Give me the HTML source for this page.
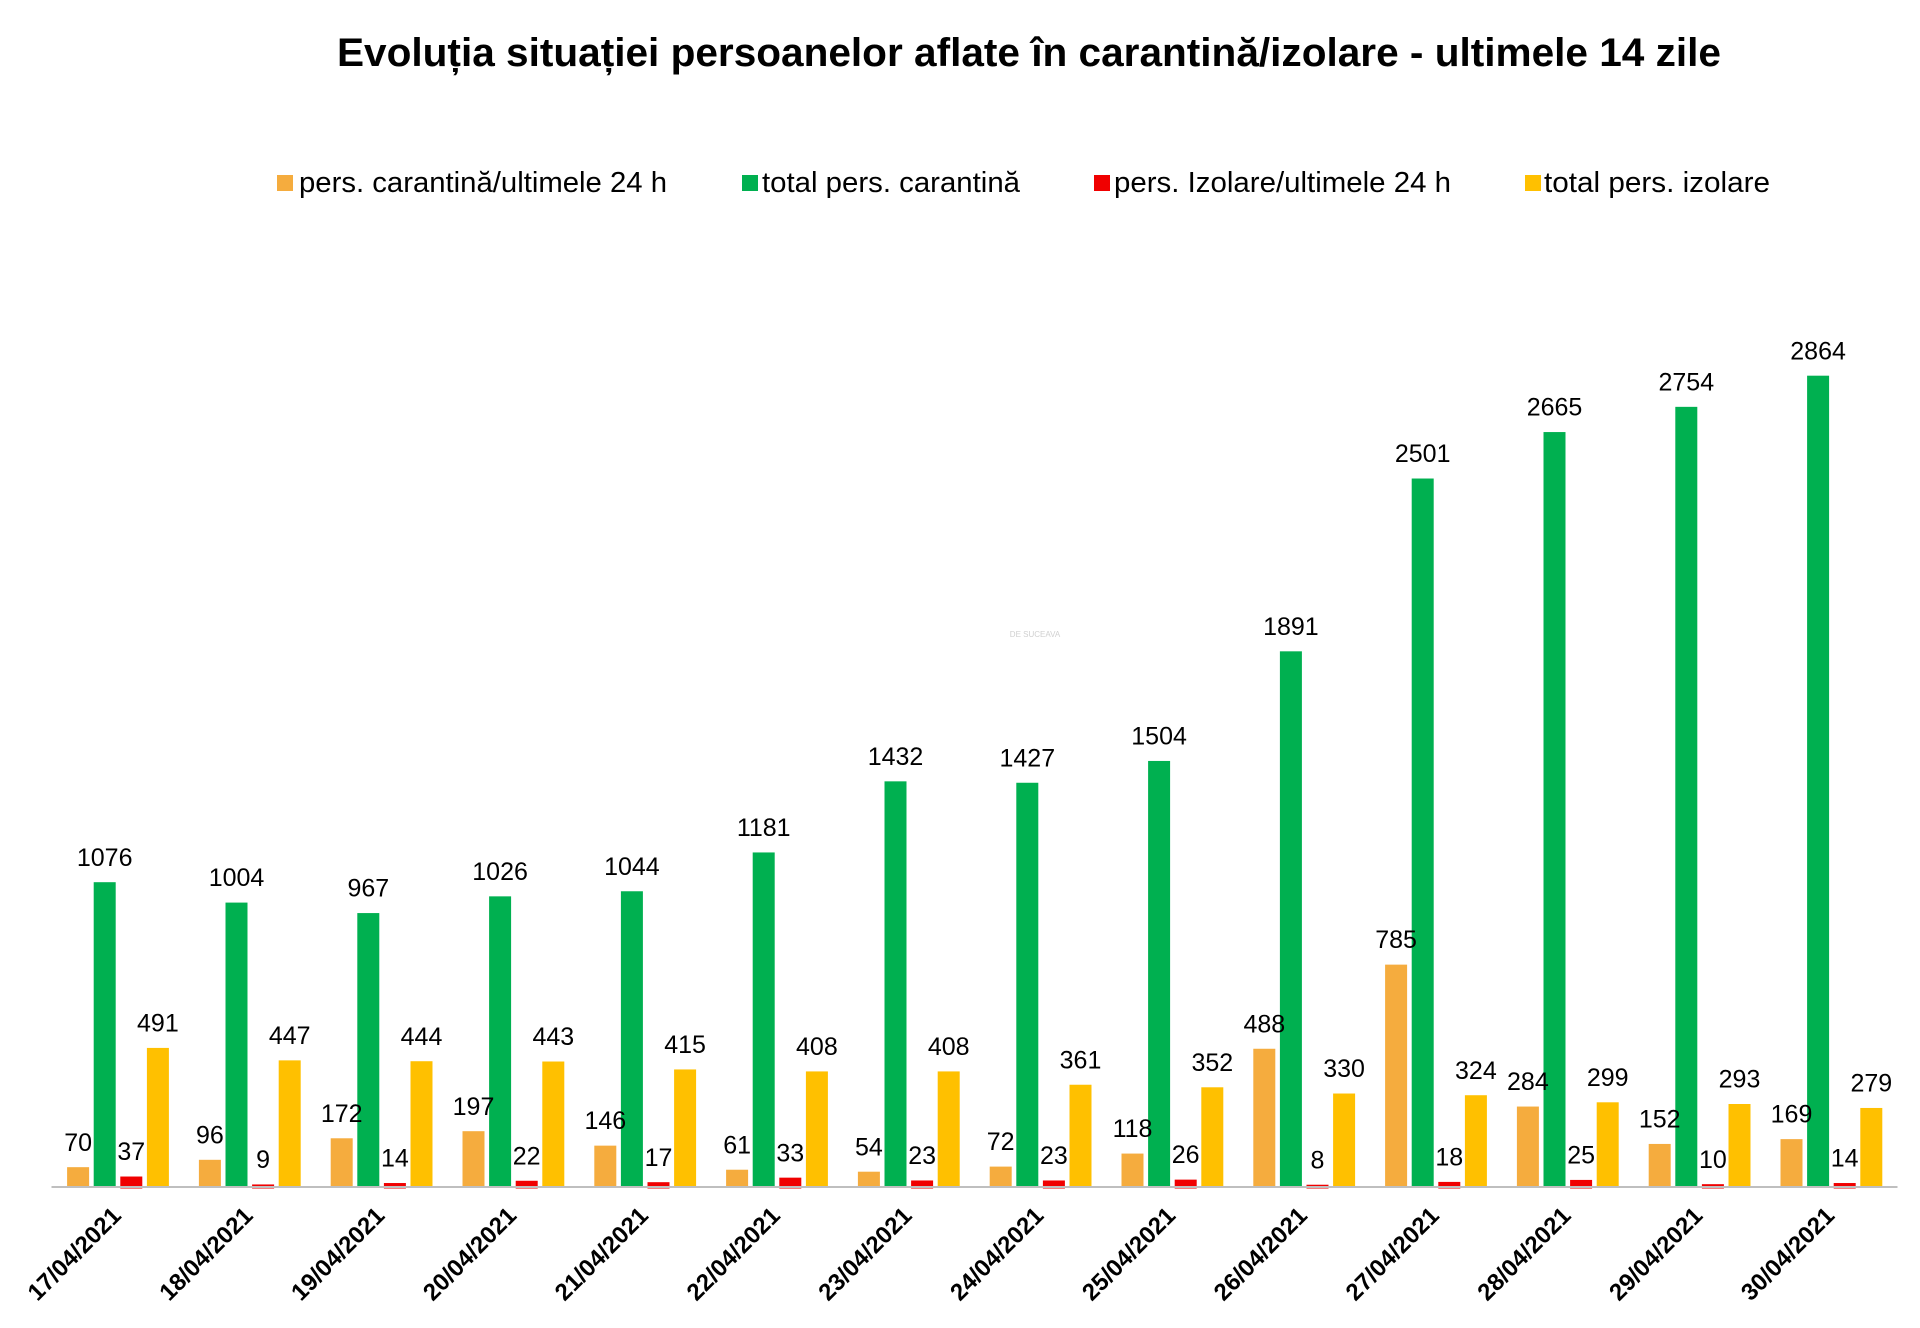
<!DOCTYPE html>
<html>
<head>
<meta charset="utf-8">
<style>
  html,body{margin:0;padding:0;background:#fff;}
  svg{display:block;}
  text{font-family:"Liberation Sans", Arial, sans-serif;fill:#000;}
  .dl{font-size:25px;text-anchor:middle;}
  .xl{font-size:24px;font-weight:bold;text-anchor:end;}
  .lg{font-size:29px;}
</style>
</head>
<body>
<svg width="1920" height="1328" viewBox="0 0 1920 1328" xmlns="http://www.w3.org/2000/svg">
  <rect x="0" y="0" width="1920" height="1328" fill="#fff"/>

  <!-- Title -->
  <text x="337" y="66" font-size="40" font-weight="bold" textLength="1384" lengthAdjust="spacingAndGlyphs">Evoluția situației persoanelor aflate în carantină/izolare - ultimele 14 zile</text>

  <!-- Legend -->
  <rect x="277" y="175" width="16" height="16" fill="#F5AC3E"/>
  <text class="lg" x="299" y="192" textLength="368" lengthAdjust="spacingAndGlyphs">pers. carantină/ultimele 24 h</text>
  <rect x="742" y="175" width="16" height="16" fill="#00B050"/>
  <text class="lg" x="762" y="192" textLength="258" lengthAdjust="spacingAndGlyphs">total pers. carantină</text>
  <rect x="1094" y="175" width="16" height="16" fill="#F00000"/>
  <text class="lg" x="1114" y="192" textLength="337" lengthAdjust="spacingAndGlyphs">pers. Izolare/ultimele 24 h</text>
  <rect x="1525" y="175" width="16" height="16" fill="#FFC000"/>
  <text class="lg" x="1544" y="192" textLength="226" lengthAdjust="spacingAndGlyphs">total pers. izolare</text>

  <!-- watermark -->
  <text x="1035" y="637" font-size="8" style="fill:#d0d0d0" text-anchor="middle">DE SUCEAVA</text>

  <!-- Orange bars -->
  <g fill="#F5AC3E">
    <rect x="67.1" y="1167.17" width="22" height="20.83"/>
    <rect x="198.9" y="1159.81" width="22" height="28.19"/>
    <rect x="330.7" y="1138.28" width="22" height="49.72"/>
    <rect x="462.5" y="1131.19" width="22" height="56.81"/>
    <rect x="594.3" y="1145.64" width="22" height="42.36"/>
    <rect x="726.1" y="1169.72" width="22" height="18.28"/>
    <rect x="857.9" y="1171.70" width="22" height="16.30"/>
    <rect x="989.7" y="1166.60" width="22" height="21.40"/>
    <rect x="1121.5" y="1153.57" width="22" height="34.43"/>
    <rect x="1253.3" y="1048.76" width="22" height="139.24"/>
    <rect x="1385.1" y="964.63" width="22" height="223.37"/>
    <rect x="1516.9" y="1106.55" width="22" height="81.45"/>
    <rect x="1648.7" y="1143.94" width="22" height="44.06"/>
    <rect x="1780.5" y="1139.13" width="22" height="48.87"/>
  </g>
  <!-- Green bars -->
  <g fill="#00B050">
    <rect x="93.7" y="882.19" width="22" height="305.81"/>
    <rect x="225.5" y="902.59" width="22" height="285.41"/>
    <rect x="357.3" y="913.07" width="22" height="274.93"/>
    <rect x="489.1" y="896.35" width="22" height="291.65"/>
    <rect x="620.9" y="891.26" width="22" height="296.74"/>
    <rect x="752.7" y="852.45" width="22" height="335.55"/>
    <rect x="884.5" y="781.34" width="22" height="406.66"/>
    <rect x="1016.3" y="782.76" width="22" height="405.24"/>
    <rect x="1148.1" y="760.95" width="22" height="427.05"/>
    <rect x="1279.9" y="651.32" width="22" height="536.68"/>
    <rect x="1411.7" y="478.52" width="22" height="709.48"/>
    <rect x="1543.5" y="432.06" width="22" height="755.94"/>
    <rect x="1675.3" y="406.85" width="22" height="781.15"/>
    <rect x="1807.1" y="375.69" width="22" height="812.31"/>
  </g>
  <!-- Red bars -->
  <g fill="#F00000">
    <rect x="120.3" y="1176.52" width="22" height="11.98"/>
    <rect x="252.1" y="1184.45" width="22" height="4.05"/>
    <rect x="383.9" y="1183.03" width="22" height="5.47"/>
    <rect x="515.7" y="1180.77" width="22" height="7.73"/>
    <rect x="647.5" y="1182.18" width="22" height="6.32"/>
    <rect x="779.3" y="1177.65" width="22" height="10.85"/>
    <rect x="911.1" y="1180.48" width="22" height="8.02"/>
    <rect x="1042.9" y="1180.48" width="22" height="8.02"/>
    <rect x="1174.7" y="1179.63" width="22" height="8.87"/>
    <rect x="1306.5" y="1184.73" width="22" height="3.77"/>
    <rect x="1438.3" y="1181.90" width="22" height="6.60"/>
    <rect x="1570.1" y="1179.92" width="22" height="8.58"/>
    <rect x="1701.9" y="1184.17" width="22" height="4.33"/>
    <rect x="1833.7" y="1183.03" width="22" height="5.47"/>
  </g>
  <!-- Yellow bars -->
  <g fill="#FFC000">
    <rect x="146.9" y="1047.91" width="22" height="140.09"/>
    <rect x="278.7" y="1060.37" width="22" height="127.63"/>
    <rect x="410.5" y="1061.22" width="22" height="126.78"/>
    <rect x="542.3" y="1061.51" width="22" height="126.49"/>
    <rect x="674.1" y="1069.44" width="22" height="118.56"/>
    <rect x="805.9" y="1071.42" width="22" height="116.58"/>
    <rect x="937.7" y="1071.42" width="22" height="116.58"/>
    <rect x="1069.5" y="1084.74" width="22" height="103.26"/>
    <rect x="1201.3" y="1087.29" width="22" height="100.71"/>
    <rect x="1333.1" y="1093.52" width="22" height="94.48"/>
    <rect x="1464.9" y="1095.22" width="22" height="92.78"/>
    <rect x="1596.7" y="1102.30" width="22" height="85.70"/>
    <rect x="1728.5" y="1104.00" width="22" height="84.00"/>
    <rect x="1860.3" y="1107.96" width="22" height="80.04"/>
  </g>

  <!-- Axis line -->
  <rect x="51.5" y="1186" width="1846" height="2" fill="#BFBFBF"/>

  <!-- Orange labels -->
  <g>
    <text class="dl" x="78.1" y="1150.8">70</text>
    <text class="dl" x="209.9" y="1143.4">96</text>
    <text class="dl" x="341.7" y="1121.9">172</text>
    <text class="dl" x="473.5" y="1114.8">197</text>
    <text class="dl" x="605.3" y="1129.2">146</text>
    <text class="dl" x="737.1" y="1153.3">61</text>
    <text class="dl" x="868.9" y="1155.3">54</text>
    <text class="dl" x="1000.7" y="1150.2">72</text>
    <text class="dl" x="1132.5" y="1137.2">118</text>
    <text class="dl" x="1264.3" y="1032.4">488</text>
    <text class="dl" x="1396.1" y="948.2">785</text>
    <text class="dl" x="1527.9" y="1090.2">284</text>
    <text class="dl" x="1659.7" y="1127.5">152</text>
    <text class="dl" x="1791.5" y="1122.7">169</text>
  </g>
  <!-- Green labels -->
  <g>
    <text class="dl" x="104.7" y="865.8">1076</text>
    <text class="dl" x="236.5" y="886.2">1004</text>
    <text class="dl" x="368.3" y="896.7">967</text>
    <text class="dl" x="500.1" y="880.0">1026</text>
    <text class="dl" x="631.9" y="874.9">1044</text>
    <text class="dl" x="763.7" y="836.1">1181</text>
    <text class="dl" x="895.5" y="764.9">1432</text>
    <text class="dl" x="1027.3" y="766.4">1427</text>
    <text class="dl" x="1159.1" y="744.6">1504</text>
    <text class="dl" x="1290.9" y="634.9">1891</text>
    <text class="dl" x="1422.7" y="462.1">2501</text>
    <text class="dl" x="1554.5" y="415.7">2665</text>
    <text class="dl" x="1686.3" y="390.5">2754</text>
    <text class="dl" x="1818.1" y="359.3">2864</text>
  </g>
  <!-- Red labels -->
  <g>
    <text class="dl" x="131.3" y="1160.1">37</text>
    <text class="dl" x="263.1" y="1168.1">9</text>
    <text class="dl" x="394.9" y="1166.6">14</text>
    <text class="dl" x="526.7" y="1164.4">22</text>
    <text class="dl" x="658.5" y="1165.8">17</text>
    <text class="dl" x="790.3" y="1161.3">33</text>
    <text class="dl" x="922.1" y="1164.1">23</text>
    <text class="dl" x="1053.9" y="1164.1">23</text>
    <text class="dl" x="1185.7" y="1163.2">26</text>
    <text class="dl" x="1317.5" y="1168.3">8</text>
    <text class="dl" x="1449.3" y="1165.5">18</text>
    <text class="dl" x="1581.1" y="1163.5">25</text>
    <text class="dl" x="1712.9" y="1167.8">10</text>
    <text class="dl" x="1844.7" y="1166.6">14</text>
  </g>
  <!-- Yellow labels -->
  <g>
    <text class="dl" x="157.9" y="1031.5">491</text>
    <text class="dl" x="289.7" y="1044.0">447</text>
    <text class="dl" x="421.5" y="1044.8">444</text>
    <text class="dl" x="553.3" y="1045.1">443</text>
    <text class="dl" x="685.1" y="1053.0">415</text>
    <text class="dl" x="816.9" y="1055.0">408</text>
    <text class="dl" x="948.7" y="1055.0">408</text>
    <text class="dl" x="1080.5" y="1068.3">361</text>
    <text class="dl" x="1212.3" y="1070.9">352</text>
    <text class="dl" x="1344.1" y="1077.1">330</text>
    <text class="dl" x="1475.9" y="1078.8">324</text>
    <text class="dl" x="1607.7" y="1085.9">299</text>
    <text class="dl" x="1739.5" y="1087.6">293</text>
    <text class="dl" x="1871.3" y="1091.6">279</text>
  </g>

  <!-- X axis labels -->
  <g>
    <text class="xl" transform="translate(122.4,1217) rotate(-45)">17/04/2021</text>
    <text class="xl" transform="translate(254.2,1217) rotate(-45)">18/04/2021</text>
    <text class="xl" transform="translate(386.0,1217) rotate(-45)">19/04/2021</text>
    <text class="xl" transform="translate(517.8,1217) rotate(-45)">20/04/2021</text>
    <text class="xl" transform="translate(649.6,1217) rotate(-45)">21/04/2021</text>
    <text class="xl" transform="translate(781.4,1217) rotate(-45)">22/04/2021</text>
    <text class="xl" transform="translate(913.2,1217) rotate(-45)">23/04/2021</text>
    <text class="xl" transform="translate(1045.0,1217) rotate(-45)">24/04/2021</text>
    <text class="xl" transform="translate(1176.8,1217) rotate(-45)">25/04/2021</text>
    <text class="xl" transform="translate(1308.6,1217) rotate(-45)">26/04/2021</text>
    <text class="xl" transform="translate(1440.4,1217) rotate(-45)">27/04/2021</text>
    <text class="xl" transform="translate(1572.2,1217) rotate(-45)">28/04/2021</text>
    <text class="xl" transform="translate(1704.0,1217) rotate(-45)">29/04/2021</text>
    <text class="xl" transform="translate(1835.8,1217) rotate(-45)">30/04/2021</text>
  </g>
</svg>
</body>
</html>
